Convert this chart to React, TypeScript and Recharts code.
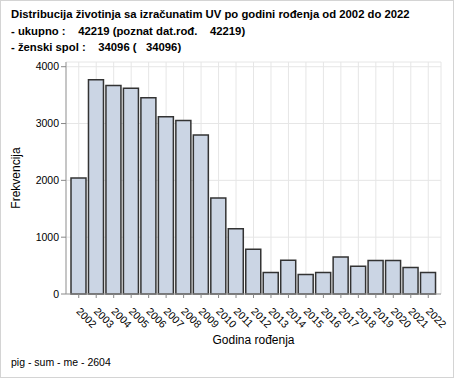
import { Bar, BarChart, CartesianGrid, XAxis, YAxis } from 'recharts';

const YEARS = [
  '2002', '2003', '2004', '2005', '2006', '2007', '2008', '2009', '2010', '2011', '2012',
  '2013', '2014', '2015', '2016', '2017', '2018', '2019', '2020', '2021', '2022',
];
const COUNTS = [
  2040, 3770, 3670, 3620, 3455, 3120, 3055, 2800, 1690, 1150, 787,
  380, 595, 345, 380, 650, 490, 590, 590, 465, 380,
];
const Y_TICKS = [0, 1000, 2000, 3000, 4000];

const TITLE_LINES = [
  'Distribucija životinja sa izračunatim UV po godini rođenja od 2002 do 2022',
  '- ukupno :    42219 (poznat dat.rođ.    42219)',
  '- ženski spol :    34096 (   34096)',
];
const FOOTER = 'pig - sum - me - 2604';

const FONT = '"Liberation Sans", Arial, sans-serif';

const data = YEARS.map((year, i) => ({ year, count: COUNTS[i] }));

function YearTick(props: any) {
  const { x, y, payload } = props;
  const ax = x - 3;
  const ay = y + 12;
  return (
    <text
      x={ax}
      y={ay}
      transform={`rotate(45, ${ax}, ${ay})`}
      textAnchor="start"
      fontSize={10.5}
      fontFamily={FONT}
      fill="#000"
    >
      {payload.value}
    </text>
  );
}

export default function App() {
  return (
    <div
      style={{
        position: 'fixed',
        left: 0,
        top: 0,
        width: 454,
        height: 378,
        boxSizing: 'border-box',
        border: '1px solid #d4d4d4',
        background: '#fff',
        fontFamily: FONT,
      }}
    >
      <div style={{ position: 'absolute', left: 10, top: 5, fontSize: 11.3, fontWeight: 700, lineHeight: '16.5px', whiteSpace: 'pre' }}>
        {TITLE_LINES.map((line) => (
          <div key={line}>{line}</div>
        ))}
      </div>
      <div style={{ position: 'absolute', left: 10, top: 355, fontSize: 10.5, whiteSpace: 'pre' }}>{FOOTER}</div>
      <div style={{ position: 'absolute', left: -1, top: -1 }}>
        <BarChart
          width={454}
          height={378}
          data={data}
          margin={{ top: 62, right: 13, bottom: 0, left: 0 }}
          barCategoryGap={2}
        >
          <CartesianGrid stroke="#e6e6e6" strokeWidth={1} />
          <XAxis
            dataKey="year"
            height={84}
            padding={{ left: 4, right: 4 }}
            tick={<YearTick />}
            tickLine={{ stroke: '#888' }}
            tickSize={4}
            axisLine={{ stroke: '#999' }}
            interval={0}
            label={{ value: 'Godina rođenja', position: 'insideBottom', offset: 34, fontSize: 12, fill: '#000', fontFamily: FONT }}
          />
          <XAxis xAxisId="top" orientation="top" dataKey="year" height={0} tick={false} tickLine={false} axisLine={{ stroke: '#999' }} />
          <YAxis
            width={66}
            domain={[0, 4083]}
            ticks={Y_TICKS}
            tick={{ fontSize: 10.5, fill: '#000', fontFamily: FONT }}
            tickLine={{ stroke: '#888' }}
            tickSize={5}
            axisLine={{ stroke: '#999' }}
            label={{ value: 'Frekvencija', angle: -90, position: 'insideLeft', offset: 16, fontSize: 12, fill: '#000', fontFamily: FONT, style: { textAnchor: 'middle' } }}
          />
          <YAxis yAxisId="right" orientation="right" width={0} domain={[0, 4083]} tick={false} tickLine={false} axisLine={{ stroke: '#999' }} />
          <Bar dataKey="count" fill="#cbd5e4" stroke="#333" strokeWidth={1.5} barSize={15} isAnimationActive={false} />
        </BarChart>
      </div>
    </div>
  );
}
